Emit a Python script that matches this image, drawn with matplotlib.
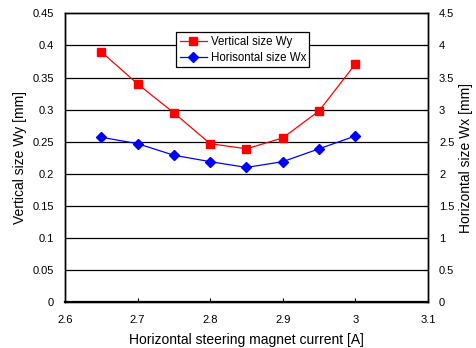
import matplotlib
matplotlib.use("Agg")
import matplotlib.pyplot as plt

# steering current [A] and measured beam sizes
current = [2.65, 2.7, 2.75, 2.8, 2.85, 2.9, 2.95, 3.0]
wy = [0.390, 0.340, 0.295, 0.247, 0.239, 0.256, 0.298, 0.371]  # vertical size [mm]
wx = [2.57, 2.47, 2.29, 2.19, 2.10, 2.19, 2.39, 2.59]  # horizontal size [mm]

x_ticks = [2.6, 2.7, 2.8, 2.9, 3.0, 3.1]
x_tick_labels = ["2.6", "2.7", "2.8", "2.9", "3", "3.1"]
left_ticks = [0, 0.05, 0.1, 0.15, 0.2, 0.25, 0.3, 0.35, 0.4, 0.45]
left_tick_labels = ["0", "0.05", "0.1", "0.15", "0.2", "0.25", "0.3", "0.35", "0.4", "0.45"]
right_ticks = [0, 0.5, 1, 1.5, 2, 2.5, 3, 3.5, 4, 4.5]
right_tick_labels = ["0", "0.5", "1", "1.5", "2", "2.5", "3", "3.5", "4", "4.5"]

plt.rcParams["font.family"] = ["Liberation Sans", "DejaVu Sans"]

fig = plt.figure(figsize=(4.76, 3.48), dpi=100)
ax = fig.add_axes([0.1366, 0.1313, 0.7624, 0.8305])
ax2 = ax.twinx()

for y in left_ticks[1:-1]:
    ax.axhline(y, color="black", lw=0.9, zorder=0)

l1, = ax.plot(current, wy, color="#ff0000", lw=0.9, marker="s", ms=5.5,
              mec="#ff0000", mfc="#ff0000", label="Vertical size Wy", zorder=3)
l2, = ax2.plot(current, wx, color="#0000ff", lw=0.9, marker="D", ms=5.5,
               mec="#0000ff", mfc="#0000ff", label="Horisontal size Wx", zorder=3)

ax.set_xlim(2.6, 3.1)
ax.set_ylim(0, 0.45)
ax2.set_ylim(0, 4.5)
ax.set_xticks(x_ticks, x_tick_labels)
ax.set_yticks(left_ticks, left_tick_labels)
ax2.set_yticks(right_ticks, right_tick_labels)

ax.tick_params(axis="x", direction="in", length=3, labelsize=8, pad=9)
ax.tick_params(axis="y", direction="in", length=0, labelsize=8, pad=8)
ax2.tick_params(axis="y", direction="in", length=3, labelsize=8, pad=8)

for a in (ax, ax2):
    for s in a.spines.values():
        s.set_color("black")
        s.set_linewidth(1.0)
ax.spines["bottom"].set_linewidth(1.6)

ax.set_xlabel("Horizontal steering magnet current [A]", fontsize=10, labelpad=6)
ax.set_ylabel("Vertical size Wy [mm]", fontsize=10, labelpad=4)
ax2.set_ylabel("Horizontal size Wx [mm]", fontsize=10, labelpad=3)

leg = ax.legend(handles=[l1, l2], loc="upper left", bbox_to_anchor=(0.306, 0.935),
                fontsize=8.3, frameon=True, fancybox=False, edgecolor="black",
                framealpha=1, borderpad=0.3, handlelength=2.4, handletextpad=0.3,
                borderaxespad=0, labelspacing=0.35)
leg.get_frame().set_linewidth(0.9)
leg.set_zorder(5)

fig.savefig("out.png", dpi=100)
